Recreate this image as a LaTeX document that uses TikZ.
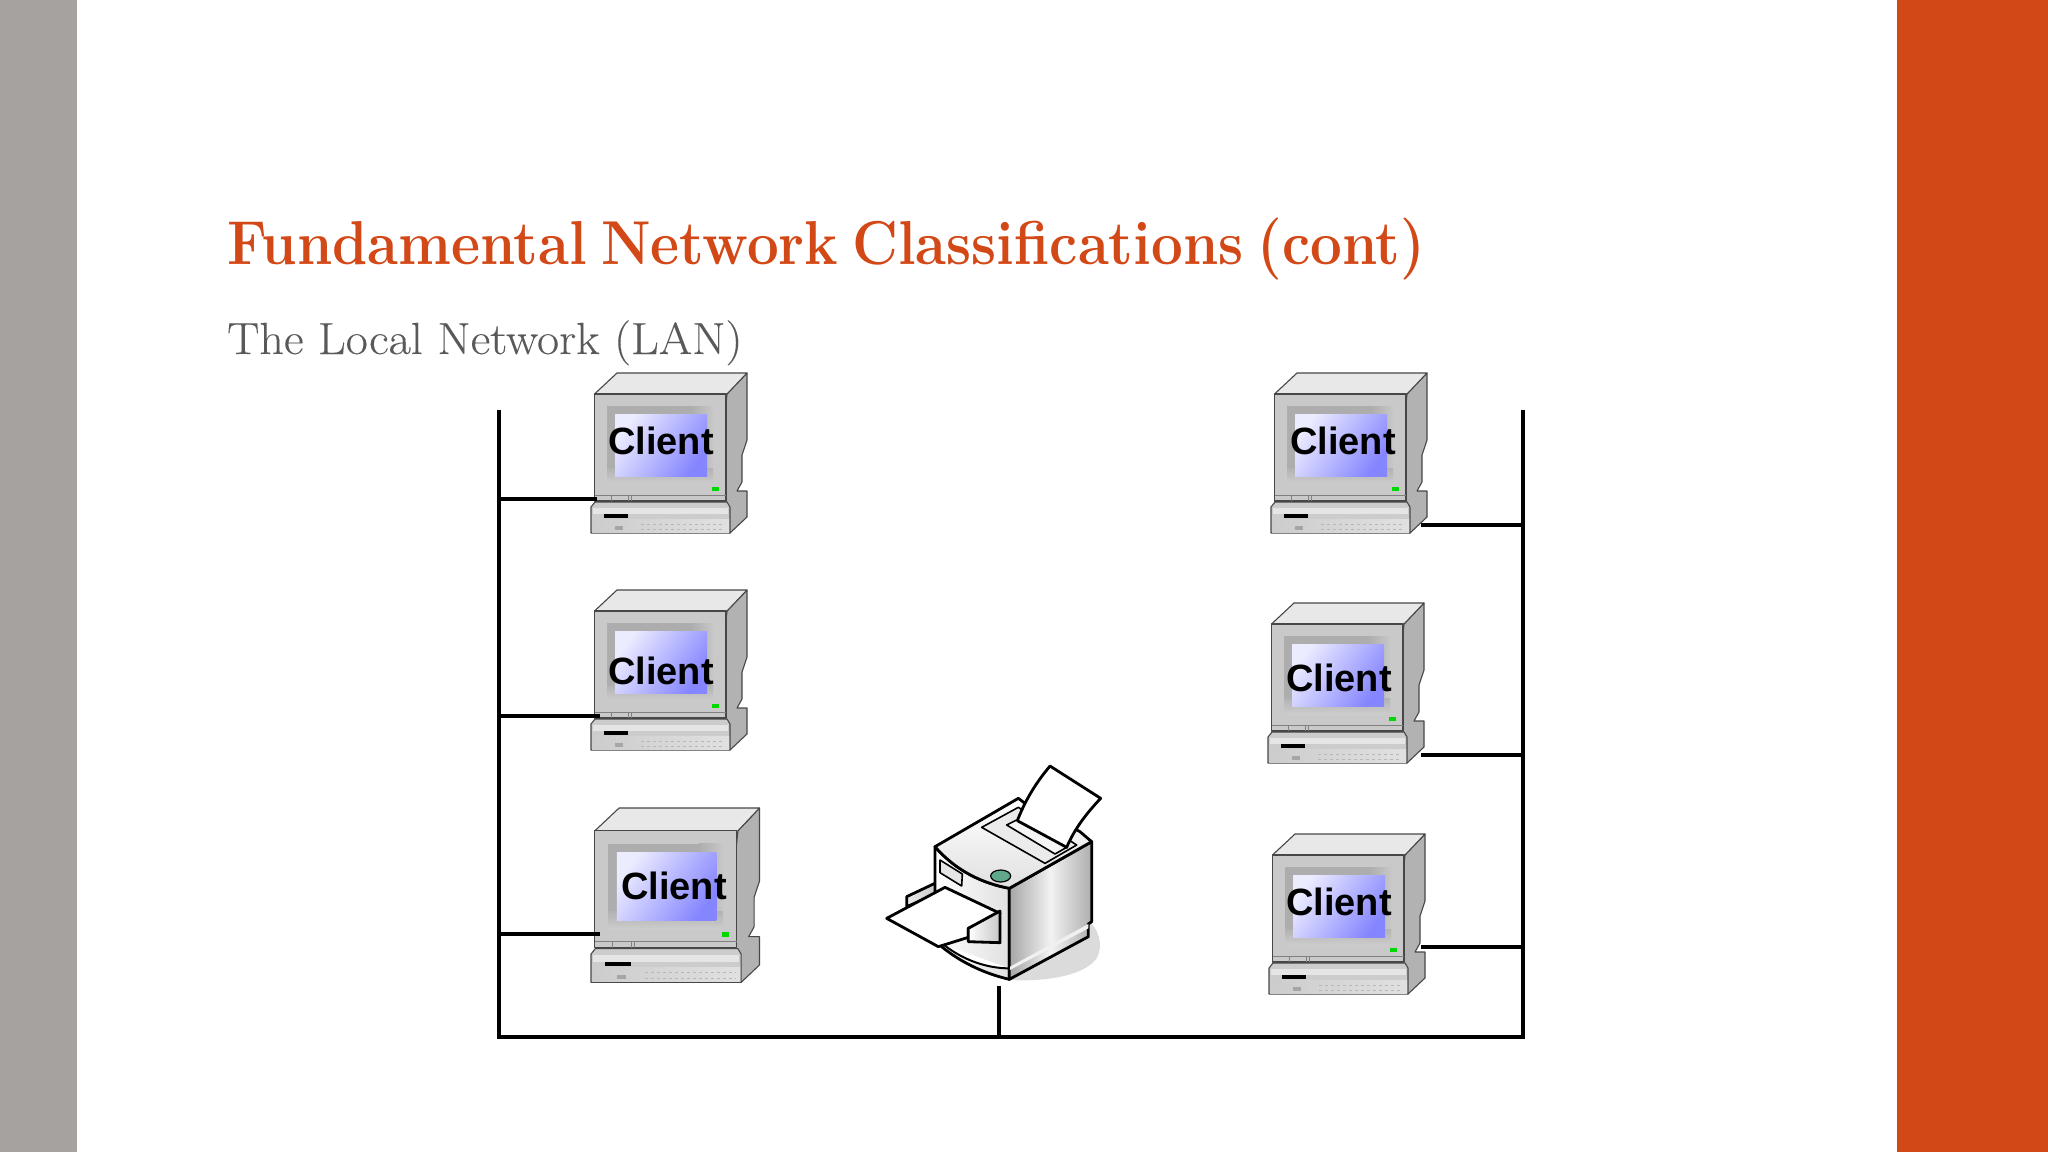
\documentclass[tikz,border=0pt]{standalone}
\usepackage{fontspec}
\newfontfamily\clifont{Liberation Sans}
\newfontfamily\titlefont[FakeStretch=0.91]{Latin Modern Roman}
\newfontfamily\subfont[FakeStretch=1.07,FakeBold=0.15]{Latin Modern Roman}
\usetikzlibrary{calc}
\definecolor{rust}{HTML}{D34817}
\definecolor{sidegrey}{HTML}{A5A2A0}
\definecolor{subgrey}{HTML}{595959}
\definecolor{scrlight}{HTML}{ECECFF}
\definecolor{scrblue}{HTML}{8585FF}
\tikzset{
  wire/.style={line width=4pt,black,line cap=butt,line join=miter},
  edge/.style={draw=black!72,line width=1.1pt,line join=round},
  pedge/.style={draw=black,line width=2.8pt,line join=round},
  clientlabel/.style={font=\clifont\bfseries\fontsize{38}{38}\selectfont,inner sep=0pt,text=black},
  pics/computer/.style={code={
    % body side
    \path[edge,fill=black!30] (136,21) -- (156,0) -- (156,67) -- (151,82) -- (151,109) -- (146,118) -- (156,118) -- (156,144) -- (139,160) -- (125,130) -- cycle;
    % top
    \path[edge,fill=black!9] (3.5,21) -- (26,0) -- (156,0) -- (136,21) -- cycle;
    % base
    \path[edge,fill=black!20] (0,134) -- (4,129) -- (136,129) -- (139,134) -- (139,160) -- (0,160) -- cycle;
    \path[fill=black!10] (2,135) rectangle (137,141);
    \path[left color=black!20,right color=black!12] (1,146) rectangle (138,159);
    \path[fill=black] (13,141) rectangle (37,145);
    \path[fill=black!35] (24,153) rectangle (32,157);
    \path[draw=black!28,line width=0.6pt,dashed] (50,151) -- (134,151) (50,156) -- (134,156);
    % front
    \path[edge,fill=black!21] (3.5,21) rectangle (135,128);
    \path[fill=black!32] (16,33) rectangle (122,111);
    \path[left color=black!32,right color=black!22] (100,33) rectangle (122,111);
    \path[top color=black!30,bottom color=black!20] (16,95) rectangle (122,111);
    \path[left color=scrlight,right color=scrblue,shading angle=55] (24,41) rectangle (116,103);
    \path[fill=green!85!black] (121,114) rectangle (128,118);
    \path[draw=black!50,line width=0.5pt] (3.5,122) -- (135,122) (20,122) -- (20,128) (37,122) -- (37,128) (40,122) -- (40,128);
  }},
}
\begin{document}
\begin{tikzpicture}[x=1pt,y=-1pt]
\useasboundingbox (0,0) rectangle (2048,1152);
\fill[white] (0,0) rectangle (2048,1152);
\fill[sidegrey] (0,0) rectangle (77,1152);
\fill[rust] (1897,0) rectangle (2048,1152);
\node[anchor=base west,inner sep=0pt,text=rust,font=\titlefont\bfseries\fontsize{62}{62}\selectfont] (title) at (227,264) {\spaceskip=0.23em Fundamental Network Classifications (cont)};
\node[anchor=base west,inner sep=0pt,text=subgrey,font=\subfont\fontsize{45}{45}\selectfont] (subtitle) at (227,354) {The Local Network (LAN)};

% computers
\pic at (591,373) {computer};
\pic at (591,590) {computer};
\pic[xscale=1.08,yscale=1.09] at (591,808) {computer};
\pic at (1271,373) {computer};
\pic at (1268,603) {computer};
\pic at (1269,834) {computer};
\node[clientlabel] (c1) at (661,441) {Client};
\node[clientlabel] (c2) at (661,671) {Client};
\node[clientlabel] (c3) at (674,886) {Client};
\node[clientlabel] (c4) at (1343,441) {Client};
\node[clientlabel] (c5) at (1339,678) {Client};
\node[clientlabel] (c6) at (1339,902) {Client};

% printer
\begin{scope}[shift={(870,750)},scale=1/3]
  \fill[black!14] (640,500) .. controls (690,530) and (700,590) .. (680,625) .. controls (640,680) and (520,695) .. (418,690) -- cycle;
  % rear tray
  \path[pedge,left color=black!8,right color=black!22] (205,395) -- (110,440) -- (110,470) -- (205,430) -- cycle;
  % front face
  \path[pedge,left color=white,right color=black!12] (195,290) .. controls (260,365) and (340,400) .. (418,415) -- (418,688) .. controls (340,670) and (270,635) .. (215,590) -- (195,500) -- cycle;
  \path[draw=black,line width=2pt,fill=white] (222,585) .. controls (280,630) and (350,655) .. (418,655);
  % right face
  \path[pedge,left color=black!35,right color=black!32,middle color=black!5] (418,415) -- (665,275) -- (665,515) -- (655,522) -- (655,560) -- (418,688) -- cycle;
  \path[fill=black!6] (420,650) -- (655,522) -- (655,535) -- (420,660) -- cycle;
  % top face
  \path[pedge,top color=white,bottom color=black!12] (195,290) -- (445,145) -- (465,160) -- (630,245) -- (665,275) -- (418,415) .. controls (340,400) and (260,365) .. (195,290) -- cycle;
  % output tray
  \path[pedge,line width=1.6pt,fill=black!8] (335,232) -- (445,172) -- (620,285) -- (525,340) -- cycle;
  \path[pedge,line width=1.6pt,fill=black!4] (410,225) -- (440,210) -- (590,292) -- (555,312) -- cycle;
  % output paper
  \path[pedge,fill=white] (442,212) .. controls (470,140) and (505,90) .. (540,48) -- (692,145) .. controls (640,200) and (610,245) .. (590,292) -- cycle;
  % panel, button
  \path[pedge,line width=1.6pt,fill=black!10] (210,330) -- (277,372) -- (275,408) -- (210,368) -- cycle;
  \path[draw=black,line width=1.2pt,fill={rgb,255:red,95;green,168;blue,140}] (392,378) ellipse [x radius=30,y radius=18];
  % input paper
  \path[pedge,fill=white] (50,505) -- (225,412) -- (390,490) -- (295,535) -- (295,562) -- (205,590) -- cycle;
  \path[pedge,left color=white,right color=black!22] (295,535) -- (390,483) -- (390,578) -- (295,575) -- cycle;
\end{scope}

% network
\coordinate (leftTop) at (499,410);
\coordinate (leftBot) at (499,1037);
\coordinate (rightTop) at (1523,410);
\coordinate (rightBot) at (1523,1037);
\coordinate (printerStem) at (999,986);
\coordinate (l1) at (597,499);
\coordinate (l2) at (600,716);
\coordinate (l3) at (600,934);
\coordinate (r1) at (1421,525);
\coordinate (r2) at (1421,755);
\coordinate (r3) at (1421,947);
\draw[wire] (leftTop) -- (leftBot) -- (rightBot) -- (rightTop);
\draw[wire] (printerStem) -- (printerStem |- leftBot);
\draw[wire] (l1) -- (l1 -| leftTop);
\draw[wire] (l2) -- (l2 -| leftTop);
\draw[wire] (l3) -- (l3 -| leftTop);
\draw[wire] (r1) -- (r1 -| rightTop);
\draw[wire] (r2) -- (r2 -| rightTop);
\draw[wire] (r3) -- (r3 -| rightTop);
\end{tikzpicture}
\end{document}
